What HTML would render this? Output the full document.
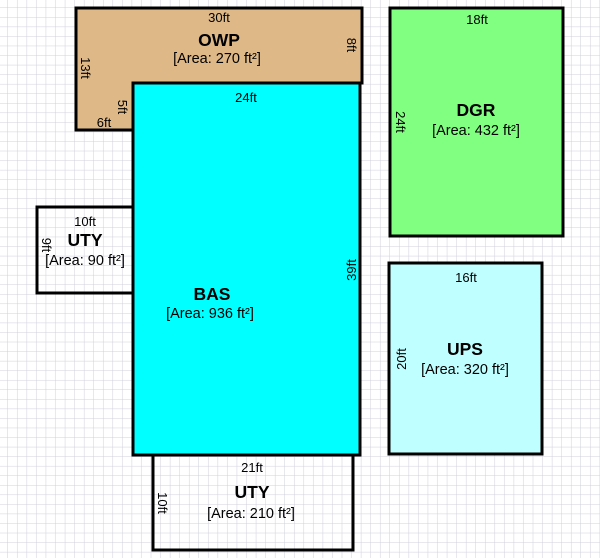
<!DOCTYPE html>
<html><head><style>
html,body{margin:0;padding:0;background:#fff;}
svg{display:block;font-family:"Liberation Sans",Arial,sans-serif;}
</style></head><body>
<svg width="600" height="558" viewBox="0 0 600 558" xmlns="http://www.w3.org/2000/svg">
<defs>
<pattern id="g" x="8" y="8" width="9.55" height="9.55" patternUnits="userSpaceOnUse">
<path d="M9.55 0V9.55H0" fill="none" stroke="#cfcfdb" stroke-width="1"/>
</pattern>
</defs>
<rect width="600" height="558" fill="#fff"/>
<rect width="600" height="558" fill="url(#g)"/>
<g stroke="#000" stroke-width="3">
<polygon points="76,8 362,8 362,83 133,83 133,130 76,130" fill="#deb887"/>
<rect x="133" y="83" width="227" height="372" fill="#00ffff"/>
<rect x="37" y="207" width="96" height="86" fill="none"/>
<rect x="153" y="455" width="200" height="95" fill="none"/>
<rect x="390" y="8" width="173" height="228" fill="#80ff80"/>
<rect x="389" y="263" width="153" height="191" fill="#c0ffff"/>
</g>
<g font-size="13" fill="#000" text-anchor="middle">
<text x="219" y="22">30ft</text>
<text x="219" y="46" font-size="17.5" font-weight="bold">OWP</text>
<text x="217" y="63" font-size="14.5">[Area: 270 ft²]</text>
<text transform="translate(81,68) rotate(90)">13ft</text>
<text transform="translate(347,45) rotate(90)">8ft</text>
<text transform="translate(118,107) rotate(90)">5ft</text>
<text x="104" y="127">6ft</text>
<text x="246" y="102">24ft</text>
<text x="212" y="300" font-size="17.5" font-weight="bold">BAS</text>
<text x="210" y="318" font-size="14.5">[Area: 936 ft²]</text>
<text transform="translate(356,270) rotate(-90)">39ft</text>
<text x="85" y="226">10ft</text>
<text x="85" y="246" font-size="17.5" font-weight="bold">UTY</text>
<text x="85" y="265" font-size="14.5">[Area: 90 ft²]</text>
<text transform="translate(42,245) rotate(90)">9ft</text>
<text x="252" y="472">21ft</text>
<text x="252" y="498" font-size="17.5" font-weight="bold">UTY</text>
<text x="251" y="518" font-size="14.5">[Area: 210 ft²]</text>
<text transform="translate(158,503) rotate(90)">10ft</text>
<text x="477" y="24">18ft</text>
<text x="476" y="116" font-size="17.5" font-weight="bold">DGR</text>
<text x="476" y="135" font-size="14.5">[Area: 432 ft²]</text>
<text transform="translate(396,122) rotate(90)">24ft</text>
<text x="466" y="282">16ft</text>
<text x="465" y="355" font-size="17.5" font-weight="bold">UPS</text>
<text x="465" y="374" font-size="14.5">[Area: 320 ft²]</text>
<text transform="translate(406,359) rotate(-90)">20ft</text>
</g>
</svg>
</body></html>
